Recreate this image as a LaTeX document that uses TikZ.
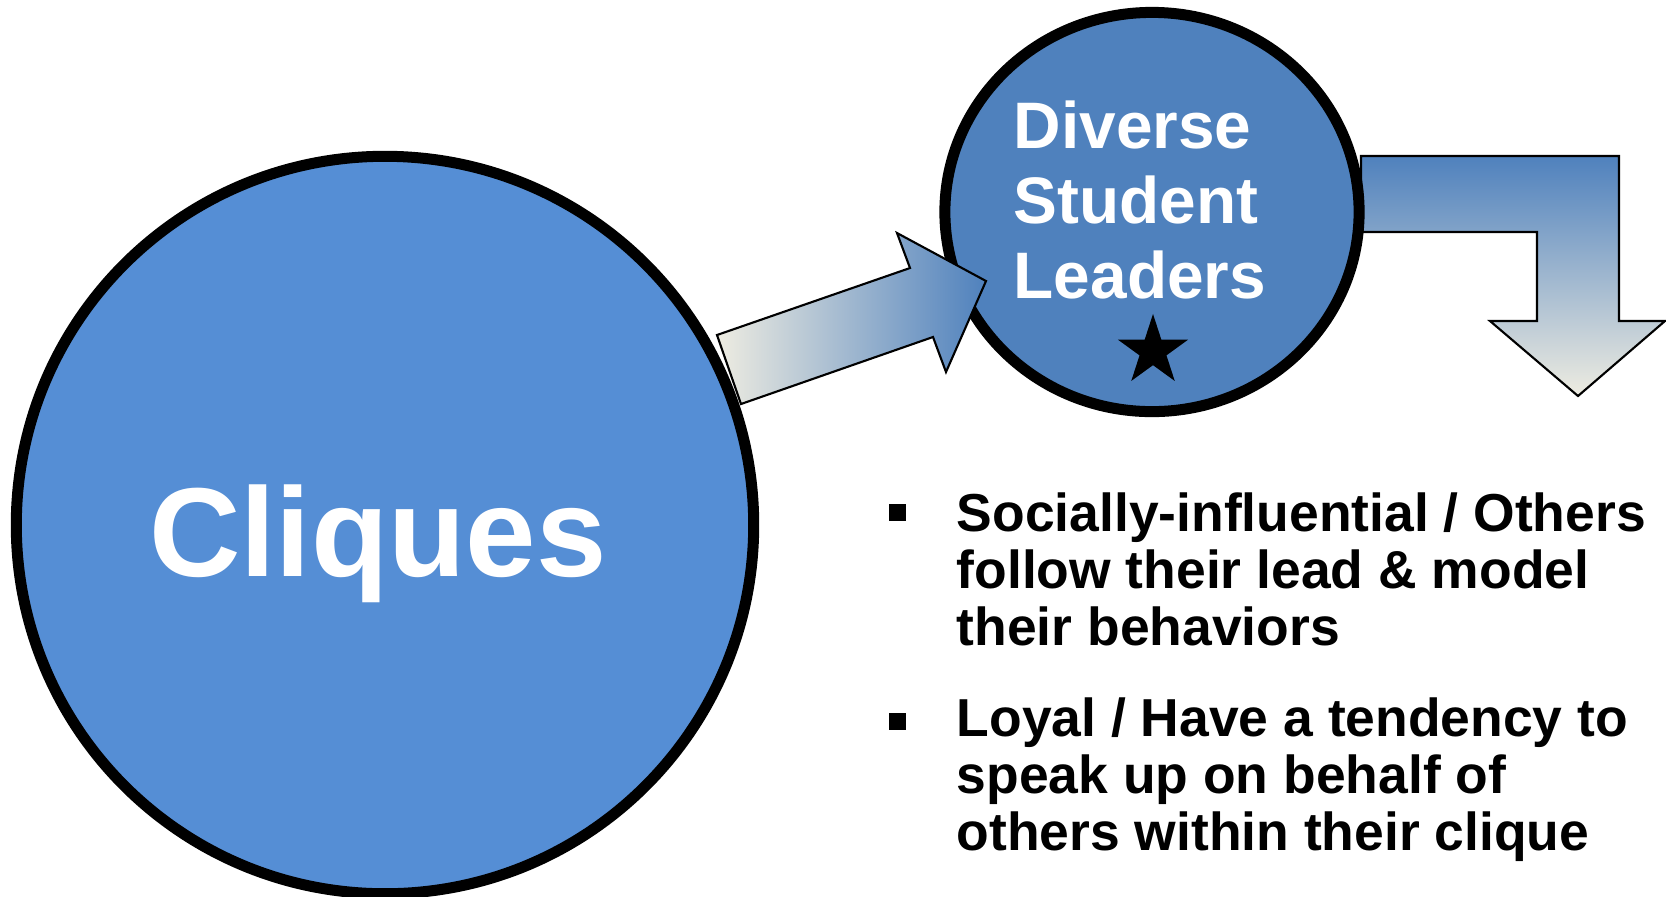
\documentclass[tikz,border=0pt]{standalone}
\usepackage{fontspec}
\setmainfont{Liberation Sans}
\usetikzlibrary{shapes.geometric}
\definecolor{cliqueblue}{RGB}{85,142,213}
\definecolor{leaderblue}{RGB}{79,129,189}
\definecolor{paleshade}{RGB}{238,236,225}

\begin{document}
\begin{tikzpicture}[x=0.01cm, y=-0.01cm,
	ring/.style={draw=black, line width=0.11cm},
	blockarrow/.style={draw=black, line width=0.6pt, line join=miter},
	bigtext/.style={text=white, font=\fontsize{36}{43}\selectfont\bfseries},
	leadtext/.style={anchor=base west, align=left, text=white, font=\fontsize{18.7}{21.3}\selectfont\bfseries},
	bullettext/.style={anchor=base west, align=left, text=black, font=\fontsize{15.2}{16.2}\selectfont\bfseries},
	bulletmark/.style={fill=black, minimum size=0.17cm}]
	\tikzstyle{every node}+=[inner sep=0pt]
	\useasboundingbox (0,0) rectangle (1666,896);
	% bent arrow, behind the small circle
	\shadedraw [blockarrow, top color=leaderblue, bottom color=paleshade] (1361,156) -- (1619,156) -- (1619,321) -- (1665,321) -- (1578,396) -- (1490,321) -- (1537,321) -- (1537,232) -- (1361,232) -- cycle;
	% circles
	\node [ring, circle, fill=cliqueblue, minimum size=7.37cm] (cliques) at (385,525) {};
	\node [bigtext, anchor=base] (cliquelabel) at (378,576) {Cliques};
	\node [ring, ellipse, fill=leaderblue, minimum width=4.14cm, minimum height=3.99cm] (leaders) at (1152,212) {};
	\node [leadtext] (leaderlabel) at (1013,298) {Diverse\\Student\\Leaders};
	\node [star, star points=5, star point ratio=2.618, fill=black, minimum size=0.74cm] (mark) at (1153,351) {};
	% arrow from the cliques to the leaders
	\shadedraw [blockarrow, left color=paleshade, right color=leaderblue] (741,404) -- (717,335) -- (910,268) -- (897,233) -- (986,281) -- (946,372) -- (933,337) -- cycle;
	% list
	\node [bulletmark] (dot1) at (897,512) {};
	\node [bullettext] (item1) at (956,645) {Socially-influential / Others\\follow their lead \& model\\their behaviors};
	\node [bulletmark] (dot2) at (897,721) {};
	\node [bullettext] (item2) at (956,850) {Loyal / Have a tendency to\\speak up on behalf of\\others within their clique};
\end{tikzpicture}
\end{document}
